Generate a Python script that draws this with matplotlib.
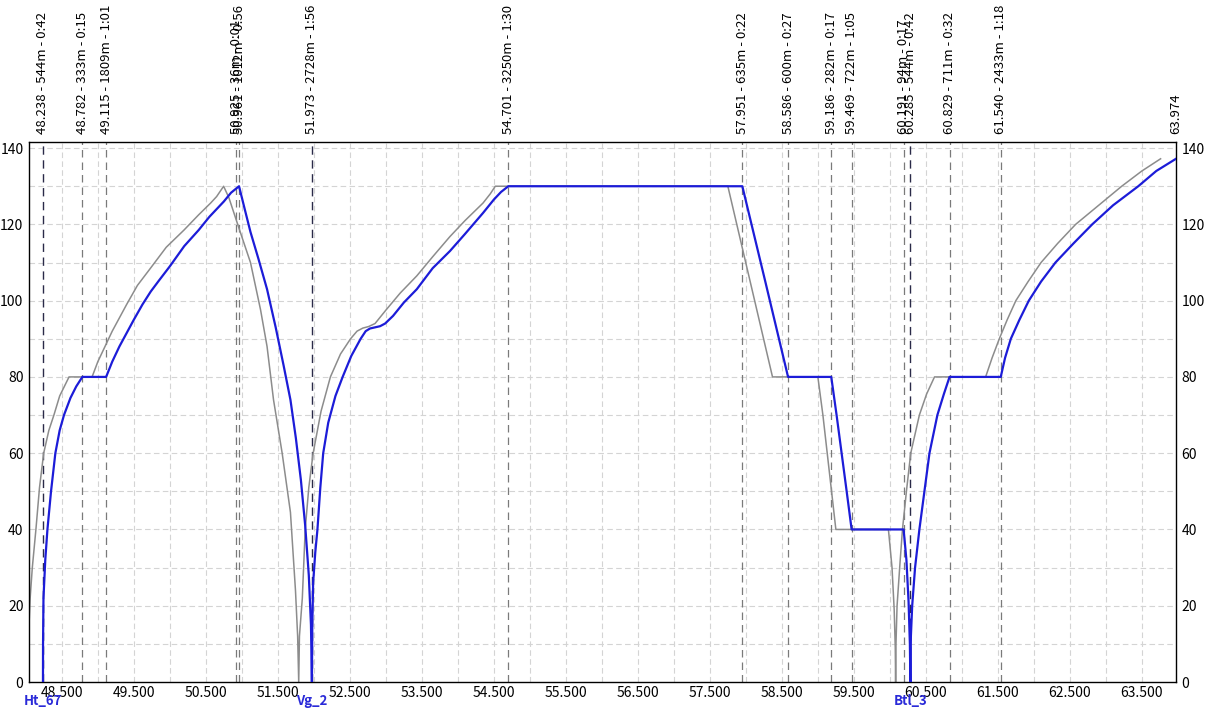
import matplotlib
matplotlib.use("Agg")
import matplotlib.pyplot as plt
import matplotlib.transforms as mtransforms

# ---------------- data ----------------
blue_km = [48.238, 48.239, 48.245, 48.27, 48.30, 48.35, 48.41, 48.47, 48.53, 48.62, 48.70, 48.785,
           49.115, 49.2, 49.3, 49.4, 49.5, 49.62, 49.735, 49.85, 50.0, 50.2, 50.4, 50.55, 50.66,
           50.75, 50.85, 50.961, 51.04, 51.12, 51.23, 51.35, 51.47, 51.58, 51.675, 51.75, 51.82,
           51.88, 51.93, 51.96, 51.973, 51.978, 51.99, 52.02, 52.05, 52.09, 52.13, 52.2, 52.3,
           52.4, 52.52, 52.65, 52.72, 52.78, 52.85, 52.92, 52.99, 53.1, 53.25, 53.43, 53.65,
           53.89, 54.1, 54.35, 54.5, 54.6, 54.701, 57.951, 58.27, 58.586, 59.186, 59.26, 59.33,
           59.40, 59.469, 60.191, 60.23, 60.26, 60.278, 60.285, 60.292, 60.31, 60.35, 60.41,
           60.48, 60.55, 60.66, 60.75, 60.829, 61.540, 61.60, 61.68, 61.80, 61.93, 62.10, 62.30,
           62.55, 62.81, 63.10, 63.45, 63.70, 63.974]
blue_speed = [0, 10, 22, 32, 40, 50, 60, 66, 70, 74.5, 77.5, 80,
              80, 84, 88, 91.5, 95, 99, 102.4, 105.3, 109, 114.3, 118.5, 122, 124.2,
              126, 128.3, 130, 124, 118, 111, 103, 93, 83, 74, 64, 53,
              41, 28, 15, 0, 14, 26, 34, 40, 51, 60, 68, 75,
              80, 85.5, 90, 92, 92.7, 93, 93.3, 94, 96, 99.5, 103, 108.5,
              113, 117.5, 123, 126.5, 128.5, 130, 130, 105, 80, 80, 70, 60,
              50, 40, 40, 32, 21, 10, 0, 12, 20, 30, 40,
              50, 60, 70, 75.5, 80, 80, 85, 90, 95, 100, 105, 110,
              115, 120, 125, 130, 134, 137.2]

gray_km = [48.044, 48.06, 48.09, 48.14, 48.19, 48.248, 48.32, 48.39, 48.47, 48.60,
           48.92, 49.0, 49.2, 49.4, 49.55, 49.735, 49.95, 50.196, 50.4, 50.567, 50.65, 50.747,
           50.82, 50.96, 51.12, 51.26, 51.35, 51.44, 51.56, 51.675, 51.745, 51.775, 51.79,
           51.80, 51.84, 51.88, 51.93, 51.99, 52.1, 52.23, 52.37, 52.51, 52.6, 52.68, 52.76,
           52.85, 53.0, 53.2, 53.43, 53.65, 53.89, 54.1, 54.35, 54.45, 54.52, 57.75, 58.37,
           59.0, 59.07, 59.13, 59.19, 59.25, 59.98, 60.03, 60.06, 60.075, 60.08, 60.085, 60.10,
           60.14, 60.175, 60.23, 60.29, 60.41, 60.51, 60.62, 61.33, 61.42, 61.52, 61.63, 61.75,
           61.92, 62.10, 62.33, 62.58, 62.9, 63.22, 63.5, 63.76]
gray_speed = [15, 22, 30, 40, 51, 60, 66, 70, 75, 80,
              80, 84, 92, 99, 104, 108.6, 114, 118.5, 122.5, 125.6, 127.3, 130,
              127, 119, 110, 97.6, 88, 74, 60, 44.5, 24, 12, 0,
              12, 22, 40, 51, 60, 71, 80, 86, 90, 92, 92.8, 93.2,
              94, 97.5, 102, 106.5, 111.5, 116.8, 121, 125.6, 128, 130, 130, 80,
              80, 70, 60, 50, 40, 40, 30, 19, 9, 0, 10, 20,
              31, 40, 50, 60, 70, 75.5, 80, 80, 85, 90, 95, 100,
              105, 110, 115, 120, 125, 130, 134, 137.2]

marker_km = [48.238, 48.782, 49.115, 50.925, 50.961, 51.973, 54.701, 57.951, 58.586,
             59.186, 59.469, 60.191, 60.285, 60.829, 61.540]
marker_text = ["48.238 - 544m - 0:42", "48.782 - 333m - 0:15", "49.115 - 1809m - 1:01",
               "50.925 - 36m - 0:01", "50.961 - 1012m - 0:56", "51.973 - 2728m - 1:56",
               "54.701 - 3250m - 1:30", "57.951 - 635m - 0:22", "58.586 - 600m - 0:27",
               "59.186 - 282m - 0:17", "59.469 - 722m - 1:05", "60.191 - 94m - 0:17",
               "60.285 - 544m - 0:42", "60.829 - 711m - 0:32", "61.540 - 2433m - 1:18"]
end_km = 63.974
end_text = "63.974"

station_km = [48.238, 51.973, 60.285]
station_names = ["Ht_67", "Vg_2", "Btl_3"]

x_start = 48.044
xtick_vals = [48.5, 49.5, 50.5, 51.5, 52.5, 53.5, 54.5, 55.5, 56.5, 57.5, 58.5,
              59.5, 60.5, 61.5, 62.5, 63.5]
xtick_labels = ["48.500", "49.500", "50.500", "51.500", "52.500", "53.500", "54.500",
                "55.500", "56.500", "57.500", "58.500", "59.500", "60.500", "61.500",
                "62.500", "63.500"]
xgrid_vals = [48.5, 49.0, 49.5, 50.0, 50.5, 51.0, 51.5, 52.0, 52.5, 53.0, 53.5, 54.0,
              54.5, 55.0, 55.5, 56.0, 56.5, 57.0, 57.5, 58.0, 58.5, 59.0, 59.5, 60.0,
              60.5, 61.0, 61.5, 62.0, 62.5, 63.0, 63.5]
ytick_vals = [0, 20, 40, 60, 80, 100, 120, 140]
ygrid_vals = [10, 20, 30, 40, 50, 60, 70, 80, 90, 100, 110, 120, 130, 140]
y_max = 141.6

# ---------------- figure ----------------
plt.rcParams['font.family'] = ['Noto Sans CJK JP', 'DejaVu Sans']
fig = plt.figure(figsize=(12.05, 7.11), dpi=100)
ax = fig.add_axes([29 / 1205, 1 - 682 / 711, (1176 - 29) / 1205, (682 - 142) / 711])
ax.set_xlim(x_start, end_km)
ax.set_ylim(0, y_max)

grid_kw = dict(color='#d4d4d4', lw=0.8, linestyle=(0, (5, 3)), zorder=0)
for g in xgrid_vals:
    ax.axvline(g, **grid_kw)
for g in ygrid_vals:
    ax.axhline(g, **grid_kw)

for k in marker_km:
    if k in station_km:
        ax.axvline(k, color='#2a2a48', lw=1.0, linestyle=(0, (6, 4)), zorder=1)
    else:
        ax.axvline(k, color='#7a7a7a', lw=0.9, linestyle=(0, (6, 4)), zorder=1)

ax.plot(gray_km, gray_speed, color='#8c8c8c', lw=1.1, zorder=2, clip_on=True)
ax.plot(blue_km, blue_speed, color='#1c1cd8', lw=1.6, zorder=3, clip_on=True)

ax.set_xticks(xtick_vals)
ax.set_xticklabels(xtick_labels, fontsize=10)
ax.set_yticks(ytick_vals)
ax.set_yticklabels([str(v) for v in ytick_vals], fontsize=10)
ax.tick_params(axis='both', length=0, pad=3)
ax.tick_params(axis='y', labelright=True, right=False, pad=4)
for s in ax.spines.values():
    s.set_color('black')
    s.set_linewidth(1.0)

trans = mtransforms.blended_transform_factory(ax.transData, ax.transAxes)
off = mtransforms.offset_copy(trans, fig=fig, x=0, y=8, units='dots')
for k, t in zip(marker_km, marker_text):
    ax.text(k, 1.0, t, transform=off, rotation=90, ha='center', va='bottom',
            fontsize=9.5, color='black', clip_on=False)
ax.text(end_km, 1.0, end_text, transform=off, rotation=90, ha='center', va='bottom',
        fontsize=9.5, color='black', clip_on=False)

off2 = mtransforms.offset_copy(trans, fig=fig, x=0, y=-19, units='dots')
for k, n in zip(station_km, station_names):
    ax.text(k, 0.0, n, transform=off2, ha='center', va='center', fontsize=9.5,
            color='#2a2ad8', fontweight='bold', clip_on=False)

fig.savefig('out.png', dpi=100)
